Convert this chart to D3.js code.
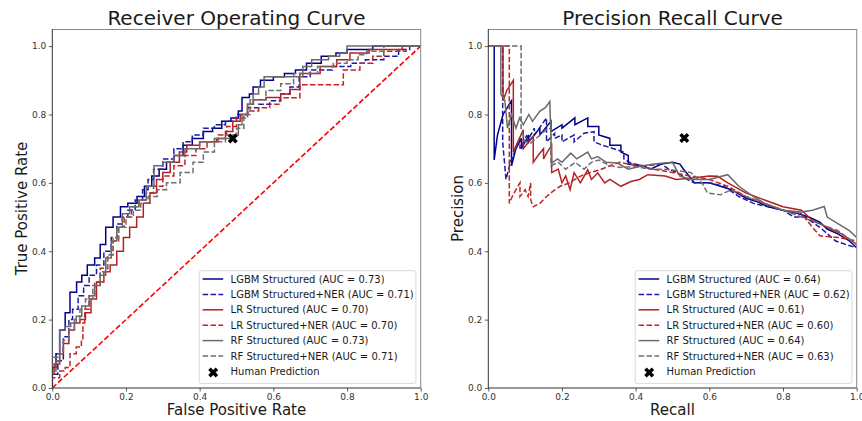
<!DOCTYPE html>
<html>
<head>
<meta charset="utf-8">
<script src="https://cdn.jsdelivr.net/npm/d3@7"></script>
<style>
  body { margin: 0; background: #fff; }
  text { font-family: "DejaVu Sans", sans-serif; }
</style>
</head>
<body>
<div id="chart"></div>
<script>
// ROC curves: [fpr, tpr] corners, drawn as steps
const rocLgbm = [[0,0],[0,0.06],[0.01,0.1],[0.02,0.17],[0.035,0.22],[0.048,0.28],[0.066,0.31],[0.08,0.33],[0.095,0.36],[0.115,0.38],[0.13,0.42],[0.145,0.47],[0.165,0.5],[0.185,0.53],[0.205,0.54],[0.23,0.56],[0.25,0.59],[0.27,0.62],[0.29,0.64],[0.31,0.66],[0.33,0.68],[0.355,0.71],[0.38,0.73],[0.41,0.75],[0.435,0.76],[0.46,0.78],[0.485,0.79],[0.505,0.81],[0.515,0.85],[0.535,0.86],[0.545,0.88],[0.565,0.9],[0.6,0.91],[0.63,0.92],[0.66,0.93],[0.69,0.95],[0.73,0.97],[0.77,0.98],[0.8,0.99],[0.87,1],[1,1]];
const rocLgbmNer = [[0,0],[0,0.04],[0.015,0.08],[0.03,0.15],[0.045,0.2],[0.055,0.23],[0.07,0.27],[0.085,0.3],[0.1,0.33],[0.12,0.36],[0.14,0.4],[0.16,0.44],[0.175,0.48],[0.19,0.5],[0.205,0.52],[0.225,0.55],[0.245,0.58],[0.26,0.61],[0.275,0.64],[0.3,0.67],[0.33,0.7],[0.355,0.72],[0.38,0.74],[0.41,0.76],[0.44,0.77],[0.47,0.78],[0.5,0.8],[0.53,0.82],[0.56,0.83],[0.59,0.84],[0.62,0.86],[0.645,0.88],[0.67,0.91],[0.7,0.93],[0.76,0.94],[0.81,0.95],[0.85,0.96],[0.9,0.97],[0.94,0.99],[0.97,1],[1,1]];
const rocLr = [[0,0],[0,0.04],[0.005,0.07],[0.02,0.1],[0.03,0.13],[0.045,0.17],[0.06,0.19],[0.075,0.2],[0.09,0.22],[0.105,0.26],[0.12,0.31],[0.14,0.34],[0.157,0.36],[0.175,0.4],[0.193,0.44],[0.21,0.47],[0.229,0.5],[0.247,0.54],[0.265,0.57],[0.283,0.61],[0.3,0.63],[0.32,0.66],[0.345,0.69],[0.365,0.71],[0.4,0.72],[0.446,0.73],[0.47,0.75],[0.49,0.78],[0.51,0.8],[0.53,0.83],[0.546,0.843],[0.58,0.85],[0.62,0.86],[0.645,0.873],[0.672,0.92],[0.727,0.94],[0.772,0.96],[0.808,0.98],[0.86,0.99],[0.95,1],[1,1]];
const rocLrNer = [[0,0],[0,0.03],[0.02,0.05],[0.035,0.06],[0.048,0.1],[0.065,0.12],[0.079,0.14],[0.083,0.19],[0.088,0.23],[0.1,0.27],[0.115,0.31],[0.13,0.35],[0.15,0.39],[0.165,0.43],[0.18,0.47],[0.195,0.5],[0.215,0.53],[0.235,0.55],[0.255,0.57],[0.275,0.59],[0.3,0.62],[0.33,0.65],[0.36,0.68],[0.39,0.7],[0.42,0.72],[0.45,0.74],[0.473,0.765],[0.5,0.79],[0.53,0.81],[0.56,0.82],[0.59,0.83],[0.618,0.849],[0.672,0.887],[0.79,0.93],[0.835,0.95],[0.87,0.97],[0.9,0.985],[0.96,1],[1,1]];
const rocRf = [[0,0],[0,0.05],[0.01,0.08],[0.02,0.17],[0.035,0.18],[0.05,0.19],[0.065,0.21],[0.08,0.24],[0.1,0.27],[0.115,0.3],[0.13,0.33],[0.145,0.38],[0.16,0.43],[0.175,0.47],[0.19,0.51],[0.21,0.53],[0.235,0.55],[0.255,0.59],[0.276,0.65],[0.3,0.66],[0.33,0.68],[0.36,0.7],[0.4,0.72],[0.44,0.73],[0.49,0.74],[0.505,0.77],[0.515,0.8],[0.53,0.83],[0.545,0.86],[0.56,0.88],[0.575,0.91],[0.68,0.94],[0.704,0.96],[0.75,0.97],[0.78,0.98],[0.8,1],[1,1]];
const rocRfNer = [[0,0],[0,0.09],[0.015,0.1],[0.03,0.14],[0.045,0.17],[0.06,0.2],[0.075,0.23],[0.09,0.26],[0.11,0.3],[0.13,0.34],[0.15,0.39],[0.165,0.44],[0.18,0.47],[0.2,0.5],[0.22,0.52],[0.24,0.54],[0.26,0.56],[0.285,0.58],[0.31,0.6],[0.347,0.63],[0.382,0.66],[0.41,0.69],[0.44,0.72],[0.47,0.74],[0.5,0.76],[0.52,0.8],[0.537,0.843],[0.58,0.87],[0.62,0.89],[0.655,0.92],[0.72,0.94],[0.763,0.95],[0.8,0.96],[0.83,0.975],[0.853,0.985],[0.9,1],[1,1]];

// PR curves: [recall, precision] points, drawn as polylines
const prLgbm = [[0,1],[0.016,1],[0.016,0.667],[0.025,0.74],[0.04,0.8],[0.063,0.84],[0.063,0.65],[0.075,0.7],[0.09,0.73],[0.09,0.7],[0.11,0.74],[0.11,0.72],[0.14,0.76],[0.14,0.74],[0.17,0.78],[0.17,0.75],[0.2,0.77],[0.2,0.76],[0.235,0.79],[0.235,0.77],[0.27,0.79],[0.27,0.765],[0.3,0.765],[0.3,0.74],[0.33,0.73],[0.33,0.71],[0.36,0.71],[0.36,0.69],[0.38,0.68],[0.38,0.655],[0.42,0.65],[0.44,0.64],[0.47,0.655],[0.5,0.66],[0.52,0.655],[0.53,0.64],[0.56,0.6],[0.6,0.6],[0.63,0.59],[0.66,0.58],[0.7,0.555],[0.73,0.545],[0.76,0.53],[0.8,0.52],[0.84,0.51],[0.87,0.5],[0.9,0.485],[0.92,0.465],[0.95,0.45],[0.98,0.43],[1,0.41]];
const prLgbmNer = [[0,1],[0.039,1],[0.039,0.72],[0.048,0.61],[0.06,0.66],[0.075,0.7],[0.086,0.73],[0.086,0.7],[0.105,0.74],[0.105,0.72],[0.125,0.76],[0.125,0.74],[0.145,0.77],[0.158,0.79],[0.158,0.72],[0.18,0.745],[0.18,0.73],[0.2,0.74],[0.2,0.72],[0.233,0.74],[0.233,0.72],[0.26,0.745],[0.287,0.75],[0.287,0.72],[0.31,0.71],[0.34,0.7],[0.368,0.69],[0.368,0.67],[0.387,0.658],[0.42,0.65],[0.47,0.655],[0.49,0.64],[0.514,0.63],[0.54,0.61],[0.558,0.6],[0.6,0.6],[0.64,0.59],[0.68,0.56],[0.72,0.54],[0.76,0.53],[0.8,0.52],[0.83,0.5],[0.86,0.5],[0.9,0.47],[0.943,0.43],[0.97,0.42],[1,0.41]];
const prLr = [[0,1],[0.04,1],[0.04,0.84],[0.05,0.87],[0.068,0.9],[0.068,0.69],[0.08,0.72],[0.095,0.755],[0.095,0.7],[0.11,0.72],[0.122,0.736],[0.122,0.66],[0.135,0.68],[0.15,0.7],[0.15,0.67],[0.16,0.69],[0.172,0.71],[0.172,0.63],[0.19,0.64],[0.2,0.6],[0.21,0.62],[0.222,0.58],[0.233,0.63],[0.25,0.6],[0.27,0.638],[0.28,0.61],[0.297,0.629],[0.316,0.6],[0.33,0.61],[0.36,0.59],[0.387,0.604],[0.41,0.61],[0.433,0.624],[0.48,0.62],[0.51,0.61],[0.56,0.615],[0.6,0.62],[0.623,0.619],[0.65,0.6],[0.7,0.57],[0.75,0.55],[0.8,0.53],[0.85,0.52],[0.88,0.49],[0.92,0.47],[0.96,0.45],[1,0.42]];
const prLrNer = [[0,1],[0.057,1],[0.057,0.54],[0.065,0.56],[0.075,0.58],[0.086,0.6],[0.086,0.56],[0.1,0.58],[0.108,0.56],[0.115,0.6],[0.115,0.55],[0.122,0.53],[0.14,0.54],[0.158,0.56],[0.175,0.575],[0.195,0.59],[0.22,0.6],[0.249,0.619],[0.275,0.63],[0.303,0.638],[0.33,0.65],[0.357,0.66],[0.38,0.655],[0.41,0.65],[0.45,0.64],[0.5,0.63],[0.55,0.62],[0.6,0.61],[0.65,0.59],[0.7,0.56],[0.75,0.54],[0.8,0.52],[0.85,0.51],[0.88,0.47],[0.9,0.445],[0.95,0.44],[1,0.43]];
const prRf = [[0,1],[0.034,1],[0.034,0.86],[0.045,0.84],[0.052,0.76],[0.063,0.8],[0.075,0.76],[0.085,0.79],[0.095,0.77],[0.11,0.8],[0.12,0.78],[0.14,0.81],[0.155,0.82],[0.167,0.838],[0.172,0.658],[0.188,0.67],[0.2,0.66],[0.224,0.687],[0.24,0.67],[0.27,0.69],[0.28,0.67],[0.297,0.677],[0.32,0.66],[0.35,0.658],[0.38,0.64],[0.41,0.648],[0.45,0.655],[0.478,0.658],[0.5,0.66],[0.52,0.62],[0.55,0.61],[0.6,0.61],[0.65,0.624],[0.68,0.59],[0.72,0.56],[0.75,0.54],[0.8,0.52],[0.85,0.515],[0.88,0.52],[0.912,0.531],[0.92,0.5],[0.95,0.48],[0.98,0.46],[1,0.44]];
const prRfNer = [[0,1],[0.089,1],[0.089,0.76],[0.1,0.72],[0.116,0.717],[0.13,0.73],[0.145,0.745],[0.158,0.755],[0.17,0.76],[0.17,0.65],[0.19,0.66],[0.21,0.64],[0.236,0.66],[0.26,0.64],[0.28,0.66],[0.3,0.667],[0.33,0.65],[0.36,0.645],[0.4,0.648],[0.44,0.64],[0.48,0.64],[0.52,0.635],[0.55,0.63],[0.58,0.6],[0.595,0.57],[0.63,0.565],[0.66,0.58],[0.7,0.56],[0.75,0.54],[0.8,0.52],[0.85,0.5],[0.9,0.48],[0.95,0.46],[1,0.42]];

const seriesNames = ['LGBM Structured','LGBM Structured+NER','LR Structured','LR Structured+NER','RF Structured','RF Structured+NER'];
const rocAuc = [0.73, 0.71, 0.70, 0.70, 0.73, 0.71];
const prAuc = [0.64, 0.62, 0.61, 0.60, 0.64, 0.63];
const humanRoc = [0.49, 0.73];
const humanPr = [0.532, 0.731];
const tickValues = [0, 0.2, 0.4, 0.6, 0.8, 1.0];

const colors = ['#00008b','#1a1aa6','#b22222','#c42424','#6a6a6a','#6e6e6e'];
const dashed = [false, true, false, true, false, true];

const width = 862, height = 421;
var svg;

function setup(){
  svg = d3.select('#chart')
          .append('svg')
          .attr('width', width)
          .attr('height', height);
  svg.append('rect').attr('width', width).attr('height', height).attr('fill', '#fff');
}

function drawPanel(left, right, title, xLabel, yLabel, curves, aucs, human, stepped, diagonal){
  const x = d3.scaleLinear().domain([0, 1]).range([left, right]);
  const y = d3.scaleLinear().domain([0, 1.05]).range([388, 29]);
  const g = svg.append('g');

  const clipId = 'clip' + Math.round(left);
  g.append('clipPath').attr('id', clipId)
   .append('rect').attr('x', left).attr('y', 29).attr('width', right - left).attr('height', 359);

  const plot = g.append('g').attr('clip-path', `url(#${clipId})`);

  if(diagonal){
    plot.append('line')
        .attr('x1', x(0)).attr('y1', y(0))
        .attr('x2', x(1)).attr('y2', y(1))
        .attr('stroke', '#ff0000')
        .attr('stroke-width', 1.6)
        .attr('stroke-dasharray', '5.5,2.4');
  }

  const line = d3.line()
                 .x(d => x(d[0]))
                 .y(d => y(d[1]))
                 .curve(stepped ? d3.curveStepAfter : d3.curveLinear);

  curves.forEach((c, i) => {
    plot.append('path')
        .datum(c)
        .attr('d', line)
        .attr('fill', 'none')
        .attr('stroke', colors[i])
        .attr('stroke-width', 1.5)
        .attr('stroke-dasharray', dashed[i] ? '5.5,2.4' : null);
  });

  // human prediction marker
  plot.append('path')
      .attr('d', d3.symbol(d3.symbolCross, 62)())
      .attr('transform', `translate(${x(human[0])},${y(human[1])}) rotate(45)`)
      .attr('fill', '#000');

  // axes
  const xAxis = g.append('g')
     .attr('transform', 'translate(0,388)')
     .call(d3.axisBottom(x).tickValues(tickValues).tickFormat(d3.format('.1f')).tickSize(3.5).tickPadding(2.5));
  const yAxis = g.append('g')
     .attr('transform', `translate(${left},0)`)
     .call(d3.axisLeft(y).tickValues(tickValues).tickFormat(d3.format('.1f')).tickSize(3.5).tickPadding(2.5));
  [xAxis, yAxis].forEach(a => {
    a.select('.domain').remove();
    a.selectAll('line').attr('stroke', '#333').attr('stroke-width', 0.8);
    a.selectAll('text').attr('fill', '#333').style('font-size', '9px').style('font-family', '"DejaVu Sans", sans-serif');
  });

  // frame
  g.append('line').attr('x1', left).attr('x2', right).attr('y1', 29.5).attr('y2', 29.5).attr('stroke', '#888').attr('stroke-width', 1);
  g.append('line').attr('x1', right).attr('x2', right).attr('y1', 29).attr('y2', 388).attr('stroke', '#888').attr('stroke-width', 1);
  g.append('line').attr('x1', left).attr('x2', left).attr('y1', 29).attr('y2', 388.5).attr('stroke', '#333').attr('stroke-width', 1);
  g.append('line').attr('x1', left).attr('x2', right).attr('y1', 388).attr('y2', 388).attr('stroke', '#333').attr('stroke-width', 1);

  // title and labels
  g.append('text')
   .attr('x', (left + right) / 2).attr('y', 25)
   .attr('text-anchor', 'middle')
   .style('font-size', '20px')
   .attr('fill', '#1a1a1a')
   .text(title);
  g.append('text')
   .attr('x', (left + right) / 2).attr('y', 415)
   .attr('text-anchor', 'middle')
   .style('font-size', '15px')
   .attr('fill', '#1a1a1a')
   .text(xLabel);
  g.append('text')
   .attr('transform', `translate(${left - 25},${(29 + 388) / 2}) rotate(-90)`)
   .attr('text-anchor', 'middle')
   .style('font-size', '15px')
   .attr('fill', '#1a1a1a')
   .text(yLabel);

  // legend
  const lx = right - 221.5, ly = 270.7;
  const leg = g.append('g');
  leg.append('rect')
     .attr('x', lx).attr('y', ly)
     .attr('width', 216.7).attr('height', 112.7)
     .attr('rx', 2)
     .attr('fill', '#fff').attr('fill-opacity', 0.8)
     .attr('stroke', '#d0d0d0').attr('stroke-width', 0.8);
  seriesNames.forEach((name, i) => {
    const ry = 279 + i * 15.4;
    leg.append('line')
       .attr('x1', lx + 3.4).attr('x2', lx + 24)
       .attr('y1', ry).attr('y2', ry)
       .attr('stroke', colors[i]).attr('stroke-width', 1.5)
       .attr('stroke-dasharray', dashed[i] ? '5.5,2.4' : null);
    leg.append('text')
       .attr('x', lx + 31.4).attr('y', ry + 3.6)
       .style('font-size', '10px')
       .attr('fill', '#1a1a1a')
       .text(`${name} (AUC = ${aucs[i].toFixed(2)})`);
  });
  const hy = 279 + 6 * 15.4;
  leg.append('path')
     .attr('d', d3.symbol(d3.symbolCross, 62)())
     .attr('transform', `translate(${lx + 14},${hy + 1}) rotate(45)`)
     .attr('fill', '#000');
  leg.append('text')
     .attr('x', lx + 31.4).attr('y', hy + 3.6)
     .style('font-size', '10px')
     .attr('fill', '#1a1a1a')
     .text('Human Prediction');
}

setup();
drawPanel(52.3, 420.7, 'Receiver Operating Curve', 'False Positive Rate', 'True Positive Rate',
          [rocLgbm, rocLgbmNer, rocLr, rocLrNer, rocRf, rocRfNer], rocAuc, humanRoc, true, true);
drawPanel(488.3, 856.7, 'Precision Recall Curve', 'Recall', 'Precision',
          [prLgbm, prLgbmNer, prLr, prLrNer, prRf, prRfNer], prAuc, humanPr, false, false);
</script>
</body>
</html>
